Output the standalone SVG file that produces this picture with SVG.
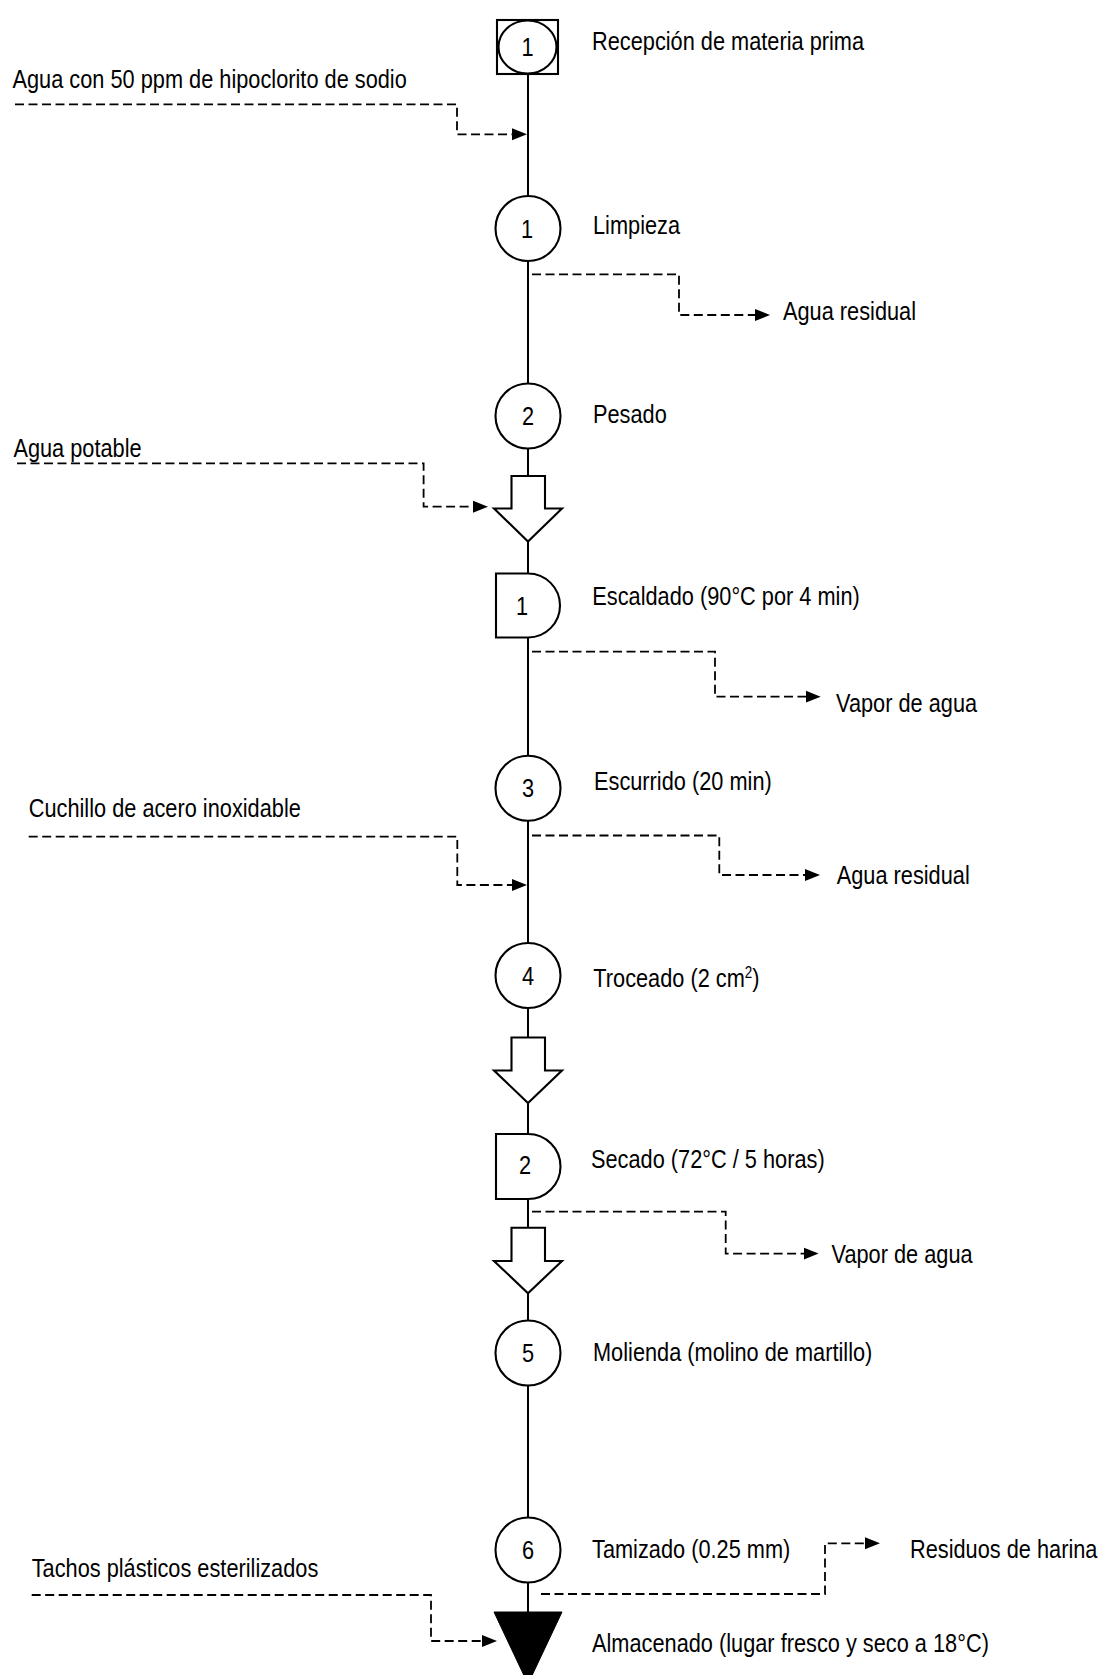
<svg xmlns="http://www.w3.org/2000/svg" width="1104" height="1675" viewBox="0 0 1104 1675">
<style>
.bg{fill:#fff}
.n{fill:#fff;stroke:#000;stroke-width:2.1}
.f{fill:#000;stroke:#000;stroke-width:1}
.ln{fill:none;stroke:#000;stroke-width:2}
.d{fill:none;stroke:#000;stroke-width:1.8;stroke-dasharray:9 4.5}
.t{font-family:"Liberation Sans",Arial,sans-serif;font-size:26px;fill:#000}
.c{font-family:"Liberation Sans",Arial,sans-serif;font-size:26px;fill:#000;text-anchor:middle}
.sup{font-size:16px}
</style>
<defs>
<marker id="ah" markerUnits="userSpaceOnUse" markerWidth="16" markerHeight="13" viewBox="0 0 16 13" refX="6" refY="6.5" orient="auto">
<path d="M0,0.5 L15,6.5 L0,12.5 Z" fill="#000"/>
</marker>
</defs>
<rect class="bg" x="0" y="0" width="1104" height="1675"/>

<g id="connectors">
<path class="ln" d="M528,74 V196 M528,261 V383.5 M528,448.5 V476 M528,541.5 V573.5 M528,637.5 V755.8 M528,820.8 V943 M528,1008 V1037.5 M528,1103 V1134 M528,1199 V1227.7 M528,1293.2 V1320.5 M528,1385.5 V1517.5 M528,1582.5 V1612"/>
<g id="in1">
<path class="d" d="M15,104.3 H457 V134.3 H518" marker-end="url(#ah)"/>
<text class="t" transform="translate(12.5 87.5) scale(0.837 1)">Agua con 50 ppm de hipoclorito de sodio</text>
</g>
<g id="out1">
<path class="d" d="M532,274.3 H679 V315 H761" marker-end="url(#ah)"/>
<text class="t" transform="translate(783 320) scale(0.837 1)">Agua residual</text>
</g>
<g id="in2">
<path class="d" d="M17,463.3 H423.6 V506.7 H479" marker-end="url(#ah)"/>
<text class="t" transform="translate(13.4 456.7) scale(0.837 1)">Agua potable</text>
</g>
<g id="out2">
<path class="d" d="M532,651.7 H715 V696.7 H811.7" marker-end="url(#ah)"/>
<text class="t" transform="translate(836 712.3) scale(0.837 1)">Vapor de agua</text>
</g>
<g id="in3">
<path class="d" d="M28.7,836.7 H457.3 V885 H518" marker-end="url(#ah)"/>
<text class="t" transform="translate(28.7 817.3) scale(0.837 1)">Cuchillo de acero inoxidable</text>
</g>
<g id="out3">
<path class="d" d="M532,835.5 H719.3 V875 H811" marker-end="url(#ah)"/>
<text class="t" transform="translate(836.7 884) scale(0.837 1)">Agua residual</text>
</g>
<g id="out4">
<path class="d" d="M532,1211.7 H725.7 V1253.6 H809.6" marker-end="url(#ah)"/>
<text class="t" transform="translate(831.5 1263) scale(0.837 1)">Vapor de agua</text>
</g>
<g id="out5">
<path class="d" d="M541,1594 H825 V1543.3 H871" marker-end="url(#ah)"/>
<text class="t" transform="translate(910 1558.3) scale(0.837 1)">Residuos de harina</text>
</g>
<g id="in4">
<path class="d" d="M31.7,1595 H431 V1641 H488" marker-end="url(#ah)"/>
<text class="t" transform="translate(31.7 1576.7) scale(0.837 1)">Tachos plásticos esterilizados</text>
</g>
</g>

<g id="n0">
<rect class="n" x="497" y="20" width="61" height="54"/>
<ellipse class="n" cx="527.5" cy="47" rx="29" ry="26.5"/>
<text class="c" transform="translate(527.5 56) scale(0.837 1)">1</text>
<text class="t" transform="translate(592 50) scale(0.837 1)">Recepción de materia prima</text>
</g>
<g id="n1">
<circle class="n" cx="528" cy="228.5" r="32.5"/>
<text class="c" transform="translate(527 237.5) scale(0.837 1)">1</text>
<text class="t" transform="translate(593 233.5) scale(0.837 1)">Limpieza</text>
</g>
<g id="n2">
<circle class="n" cx="528" cy="416" r="32.5"/>
<text class="c" transform="translate(528 425) scale(0.837 1)">2</text>
<text class="t" transform="translate(593 423) scale(0.837 1)">Pesado</text>
</g>
<g id="t1">
<path class="n" d="M511.5,476 H545 V508.5 H562 L528,541.5 L494,508.5 H511.5 Z"/>
</g>
<g id="d1">
<path class="n" d="M496,573.5 H528 A32,32 0 0 1 528,637.5 H496 Z"/>
<text class="c" transform="translate(522 615) scale(0.837 1)">1</text>
<text class="t" transform="translate(592.3 605) scale(0.837 1)">Escaldado (90°C por 4 min)</text>
</g>
<g id="n3">
<circle class="n" cx="528" cy="788.3" r="32.5"/>
<text class="c" transform="translate(528 797.3) scale(0.837 1)">3</text>
<text class="t" transform="translate(594 790) scale(0.837 1)">Escurrido (20 min)</text>
</g>
<g id="n4">
<circle class="n" cx="528" cy="975.5" r="32.5"/>
<text class="c" transform="translate(528 984.5) scale(0.837 1)">4</text>
<text class="t" transform="translate(593.3 987.3) scale(0.837 1)">Troceado (2 cm<tspan class="sup" dy="-9">2</tspan><tspan dy="9">)</tspan></text>
</g>
<g id="t2">
<path class="n" d="M511.5,1037.5 H545 V1070.5 H562 L528,1103 L494,1070.5 H511.5 Z"/>
</g>
<g id="d2">
<path class="n" d="M496,1134 H528 A32.5,32.5 0 0 1 528,1199 H496 Z"/>
<text class="c" transform="translate(525 1174) scale(0.837 1)">2</text>
<text class="t" transform="translate(591 1168.3) scale(0.837 1)">Secado (72°C / 5 horas)</text>
</g>
<g id="t3">
<path class="n" d="M511.5,1227.7 H545 V1261 H562 L528,1293.2 L494,1261 H511.5 Z"/>
</g>
<g id="n5">
<circle class="n" cx="528" cy="1353" r="32.5"/>
<text class="c" transform="translate(528 1362) scale(0.837 1)">5</text>
<text class="t" transform="translate(593 1361) scale(0.837 1)">Molienda (molino de martillo)</text>
</g>
<g id="n6">
<circle class="n" cx="528" cy="1550" r="32.5"/>
<text class="c" transform="translate(528 1559) scale(0.837 1)">6</text>
<text class="t" transform="translate(592 1558.3) scale(0.837 1)">Tamizado (0.25 mm)</text>
</g>
<g id="s1">
<polygon class="f" points="494,1612 562,1612 528,1684"/>
<text class="t" transform="translate(592 1652) scale(0.837 1)">Almacenado (lugar fresco y seco a 18°C)</text>
</g>
</svg>
